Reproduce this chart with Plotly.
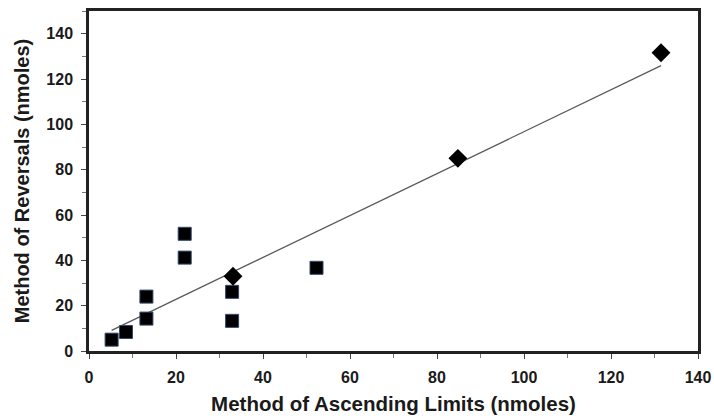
import plotly.graph_objects as go

# Squares series
sq_x = [5.2, 8.5, 13.2, 13.2, 22.0, 22.0, 32.9, 32.9, 52.3]
sq_y = [5.0, 8.4, 24.0, 14.3, 51.7, 41.2, 26.1, 13.3, 36.7]
# Diamonds series
dm_x = [33.1, 84.8, 131.5]
dm_y = [33.0, 85.0, 131.6]
# Trend line endpoints
trend_x = [5.2, 131.5]
trend_y = [9.1, 125.9]

x_ticks = [0, 20, 40, 60, 80, 100, 120, 140]
y_ticks = [0, 20, 40, 60, 80, 100, 120, 140]

fig = go.Figure()
fig.add_trace(go.Scatter(x=trend_x, y=trend_y, mode="lines",
                         line=dict(color="#5a5a5a", width=1.3), showlegend=False))
fig.add_trace(go.Scatter(x=sq_x, y=sq_y, mode="markers",
                         marker=dict(symbol="square", size=13, color="black",
                                     line=dict(color="#34466a", width=1)),
                         showlegend=False))
fig.add_trace(go.Scatter(x=dm_x, y=dm_y, mode="markers",
                         marker=dict(symbol="diamond", size=14.5, color="black",
                                     line=dict(color="black", width=0)),
                         showlegend=False))

font_family = "Liberation Sans, Arial, sans-serif"
fig.update_layout(
    width=714, height=419,
    margin=dict(l=89, r=16, t=11, b=68),
    paper_bgcolor="white", plot_bgcolor="white",
    font=dict(family=font_family, color="#1a1a1a"),
    xaxis=dict(
        range=[0, 140], tickvals=x_ticks, ticktext=[f"<b>{v}</b>" for v in x_ticks],
        ticks="outside", ticklen=5, tickwidth=1, automargin=False,
        ticklabelstandoff=5,
        tickcolor="#444", showgrid=False, zeroline=False,
        showline=True, linecolor="#222", linewidth=2.5, mirror=True,
        tickfont=dict(size=16, family=font_family),
        minor=dict(dtick=10, ticks="outside", ticklen=4, tickcolor="#777", tickwidth=1),
        title=dict(text="<b>Method of Ascending Limits (nmoles)</b>",
                   font=dict(size=20.5, family=font_family), standoff=12),
    ),
    yaxis=dict(
        range=[0, 150], tickvals=y_ticks, ticktext=[f"<b>{v}</b>" for v in y_ticks],
        ticks="outside", ticklen=5, tickwidth=1, automargin=False,
        ticklabelstandoff=5,
        tickcolor="#444", showgrid=False, zeroline=False,
        showline=True, linecolor="#222", linewidth=2.5, mirror=True,
        tickfont=dict(size=16, family=font_family),
        minor=dict(dtick=10, ticks="outside", ticklen=4, tickcolor="#777", tickwidth=1),
        title=dict(text="<b>Method of Reversals (nmoles)</b>",
                   font=dict(size=20, family=font_family), standoff=12),
    ),
)

fig.write_html(
    "out.html",
    config={"displayModeBar": False},
    post_script="document.body.style.margin='0';document.body.style.overflow='hidden';",
)
